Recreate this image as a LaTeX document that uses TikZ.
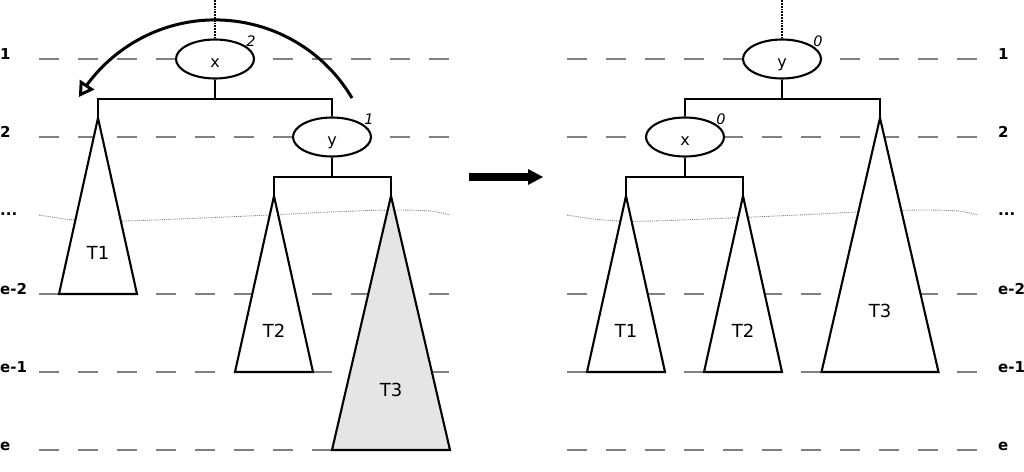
\documentclass[tikz,border=0pt]{standalone}
\usepackage{fontspec}
\setmainfont{DejaVu Sans}
\usetikzlibrary{arrows.meta,shapes.geometric,bending}
\begin{document}
\begin{tikzpicture}[x=1pt,y=-1pt,
  levelline/.style={gray, line width=2pt, dash pattern=on 20pt off 19pt},
  wave/.style={gray, line width=0.9pt, densely dotted},
  treeline/.style={black, line width=2.1pt},
  vdots/.style={black, line width=1.8pt, densely dotted},
  tri/.style={draw=black, line width=2.1pt, fill=white, line join=miter},
  keynode/.style={ellipse, draw, line width=2.1pt, fill=white, minimum width=78pt, minimum height=39pt, inner sep=0pt, font=\fontsize{16}{19}\selectfont, text height=17pt, text depth=0pt},
  bal/.style={anchor=base, inner sep=0pt, font=\itshape\fontsize{14.5}{17}\selectfont},
  tlabel/.style={inner sep=0pt, font=\fontsize{18}{21}\selectfont},
  lvl/.style={anchor=base west, inner sep=0pt, font=\bfseries\fontsize{15}{18}\selectfont}
]
\useasboundingbox (0,0) rectangle (1024,471);

% level lines and labels
\foreach \yy in {59,137,294,372,450} {
  \draw[levelline] (39,\yy) -- (450,\yy);
  \draw[levelline] (567,\yy) -- (978,\yy);
}
\node[lvl] (L1) at (0,59) {1};
\node[lvl] (L2) at (0,137) {2};
\node[lvl] (L3) at (0,215) {...};
\node[lvl] (L4) at (0,294) {e-2};
\node[lvl] (L5) at (0,372) {e-1};
\node[lvl] (L6) at (0,450) {e};
\node[lvl] (R1) at (998,59) {1};
\node[lvl] (R2) at (998,137) {2};
\node[lvl] (R3) at (998,215) {...};
\node[lvl] (R4) at (998,294) {e-2};
\node[lvl] (R5) at (998,372) {e-1};
\node[lvl] (R6) at (998,450) {e};

% wavy dotted lines
\draw[wave] plot[smooth] coordinates {(39,215) (75,220) (125,221) (270,215) (330,212) (390,210) (430,211) (450,215)};
\draw[wave] plot[smooth] coordinates {(567,215) (603,220) (653,221) (798,215) (858,212) (918,210) (958,211) (978,215)};

% ---------- left tree ----------
\coordinate (ltop) at (215,0);
\node[keynode] (lx) at (215,59) {x};
\node[bal] (lxb) at (251,46) {2};
\draw[vdots] (lx.north) -- (ltop);
\node[keynode] (ly) at (332,137) {y};
\node[bal] (lyb) at (369,124) {1};

\coordinate (lT1) at (98,118);
\coordinate (lT2) at (274,196);
\coordinate (lT3) at (391,196);
\coordinate (lxj) at (215,99);
\coordinate (lyj) at (332,177);

\draw[treeline] (lx.south) -- (lxj);
\draw[treeline] (lT1) |- (lxj) -| (ly.north);
\draw[treeline] (ly.south) -- (lyj);
\draw[treeline] (lT2) |- (lyj) -| (lT3);

\draw[tri] (lT1) -- ++(-39,176) -- ++(78,0) -- cycle;
\draw[tri] (lT2) -- ++(-39,176) -- ++(78,0) -- cycle;
\draw[tri, fill={rgb,255:red,229;green,229;blue,229}] (lT3) -- ++(-59,254) -- ++(118,0) -- cycle;
\node[tlabel] (lT1l) at (98,253) {T1};
\node[tlabel] (lT2l) at (274,331) {T2};
\node[tlabel] (lT3l) at (391,390) {T3};

% rotation arrow
\coordinate (rotS) at (352,98);
\draw[line width=3pt, -{Triangle[open,length=15pt,width=17pt]}] (rotS) arc[start angle=30.6, end angle=149, radius=159pt];

% ---------- transformation arrow ----------
\coordinate (ma) at (469,177);
\coordinate (mb) at (543,177);
\draw[line width=8pt, -{Triangle[length=15pt,width=16pt,line width=0pt]}] (ma) -- (mb);

% ---------- right tree ----------
\coordinate (rtop) at (782,0);
\node[keynode] (ry) at (782,59) {y};
\node[bal] (ryb) at (818,46) {0};
\draw[vdots] (ry.north) -- (rtop);
\node[keynode] (rx) at (685,137) {x};
\node[bal] (rxb) at (721,124) {0};

\coordinate (rT1) at (626,196);
\coordinate (rT2) at (743,196);
\coordinate (rT3) at (880,118);
\coordinate (ryj) at (782,99);
\coordinate (rxj) at (685,177);

\draw[treeline] (ry.south) -- (ryj);
\draw[treeline] (rx.north) |- (ryj) -| (rT3);
\draw[treeline] (rx.south) -- (rxj);
\draw[treeline] (rT1) |- (rxj) -| (rT2);

\draw[tri] (rT1) -- ++(-39,176) -- ++(78,0) -- cycle;
\draw[tri] (rT2) -- ++(-39,176) -- ++(78,0) -- cycle;
\draw[tri] (rT3) -- ++(-58.5,254) -- ++(117,0) -- cycle;
\node[tlabel] (rT1l) at (626,331) {T1};
\node[tlabel] (rT2l) at (743,331) {T2};
\node[tlabel] (rT3l) at (880,311) {T3};
\end{tikzpicture}
\end{document}
